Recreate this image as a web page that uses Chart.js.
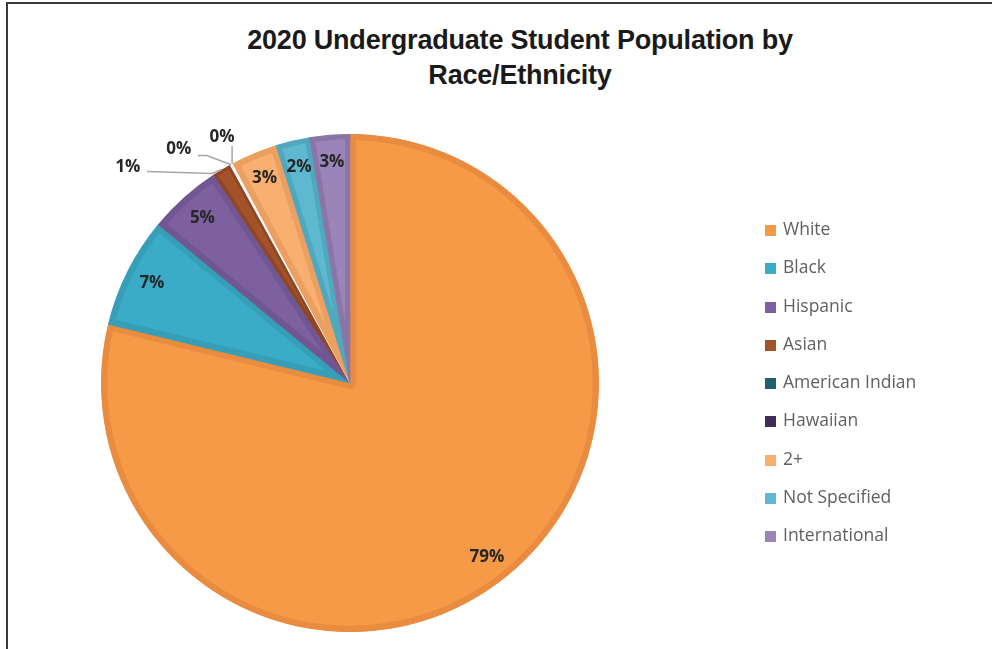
<!DOCTYPE html>
<html>
<head>
<meta charset="utf-8">
<script src="https://cdn.jsdelivr.net/npm/chart.js@4/dist/chart.umd.min.js"></script>
<style>
  html, body { margin: 0; padding: 0; background: #fff; }
  body { width: 992px; height: 649px; position: relative; overflow: hidden; }
  #frame { position: absolute; left: 6px; top: 2px; right: -5px; bottom: -5px;
           border-top: 2px solid #3a3a3a; border-left: 2px solid #3a3a3a; }
  #title { position: absolute; left: 220px; width: 600px; top: 23px; text-align: center;
           font-family: "Liberation Sans", Arial, sans-serif; font-weight: bold;
           font-size: 27px; line-height: 35px; color: #1a1a1a; letter-spacing: -0.2px; }
  #wrap { position: absolute; left: 0; top: 0; width: 992px; height: 649px; }
  #legend { position: absolute; left: 765px; top: 216px; font-family: "Open Sans", sans-serif;
            font-size: 17.5px; color: #606060; }
  #legend div { height: 38.3px; line-height: 24px; white-space: nowrap; }
  #legend span { display: inline-block; width: 11px; height: 11px; margin-right: 7px; vertical-align: -1px; }
</style>
</head>
<body>
<div id="frame"></div>
<div id="title">2020 Undergraduate Student Population by<br>Race/Ethnicity</div>
<div id="wrap"><canvas id="chart"></canvas></div>
<div id="legend"></div>
<script>
// === Data ===
const categories = ["White", "Black", "Hispanic", "Asian", "American Indian", "Hawaiian", "2+", "Not Specified", "International"];
const shares = [78.8, 7.2, 4.8, 1.2, 0.1, 0.1, 3.0, 2.2, 2.6];

// === Styles ===
const fills = ["#F69A48", "#3AACC8", "#7E60A0", "#A3522A", "#215F6E", "#3F2D55", "#F8AF70", "#5DB8D0", "#9A84B8"];
const edges = ["#E98C3F", "#379EB8", "#705793", "#8F4625", "#ffffff", "#ffffff", "#EBA062", "#50A8BF", "#8A75A6"];
const edgeWidths = [6, 6, 6, 3, 2, 2, 6, 5, 5];

// small slices get a label outside with a leader line
// [labelDx, labelDy, elbowDx, elbowDy, startDx, startDy] relative to slice edge / label
const leaders = {
  3: [-94, -2, -10, 4, 19, 4],
  4: [-52, -15, -24, -9, 19, 6],
  5: [-10, -27, 0, -18, 10, 9]
};

function log(msg) {
  console.log("[chart]", msg);
}

const legend = document.getElementById("legend");
categories.forEach((name, i) => {
  const div = document.createElement("div");
  div.innerHTML = `<span style="background:${fills[i]}"></span>${name}`;
  legend.appendChild(div);
});

const labelPlugin = {
  id: "pctLabels",
  afterDatasetsDraw(chart) {
    const ctx = chart.ctx;
    const meta = chart.getDatasetMeta(0);
    const total = shares.reduce((a, b) => a + b, 0);
    ctx.save();
    ctx.font = "bold 17px 'Open Sans', sans-serif";
    ctx.fillStyle = "#262626";
    ctx.textAlign = "center";
    ctx.textBaseline = "middle";
    meta.data.forEach((arc, i) => {
      const p = arc.getProps(["x", "y", "startAngle", "endAngle", "outerRadius"], true);
      const mid = (p.startAngle + p.endAngle) / 2;
      const text = Math.round(shares[i] / total * 100) + "%";
      const lead = leaders[i];
      if (!lead) {
        const r = p.outerRadius * 0.89;
        ctx.fillText(text, p.x + Math.cos(mid) * r, p.y + Math.sin(mid) * r);
        return;
      }
      const ex = p.x + Math.cos(mid) * p.outerRadius;
      const ey = p.y + Math.sin(mid) * p.outerRadius;
      const lx = ex + lead[0], ly = ey + lead[1];
      ctx.strokeStyle = "#A6A6A6";
      ctx.lineWidth = 1.5;
      ctx.beginPath();
      ctx.moveTo(lx + lead[4], ly + lead[5]);
      ctx.lineTo(ex + lead[2], ey + lead[3]);
      ctx.lineTo(ex, ey);
      ctx.stroke();
      ctx.fillText(text, lx, ly);
    });
    ctx.restore();
  }
};

new Chart(document.getElementById("chart"), {
  type: "pie",
  data: {
    labels: categories,
    datasets: [{
      data: shares,
      backgroundColor: fills,
      borderColor: edges,
      borderWidth: edgeWidths,
      borderAlign: "inner"
    }]
  },
  options: {
    responsive: true,
    maintainAspectRatio: false,
    animation: false,
    layout: { padding: { left: 101, top: 134, right: 393, bottom: 17 } },
    plugins: {
      legend: { display: false },
      tooltip: { enabled: false }
    }
  },
  plugins: [labelPlugin]
});
log("drawn");
</script>
</body>
</html>
